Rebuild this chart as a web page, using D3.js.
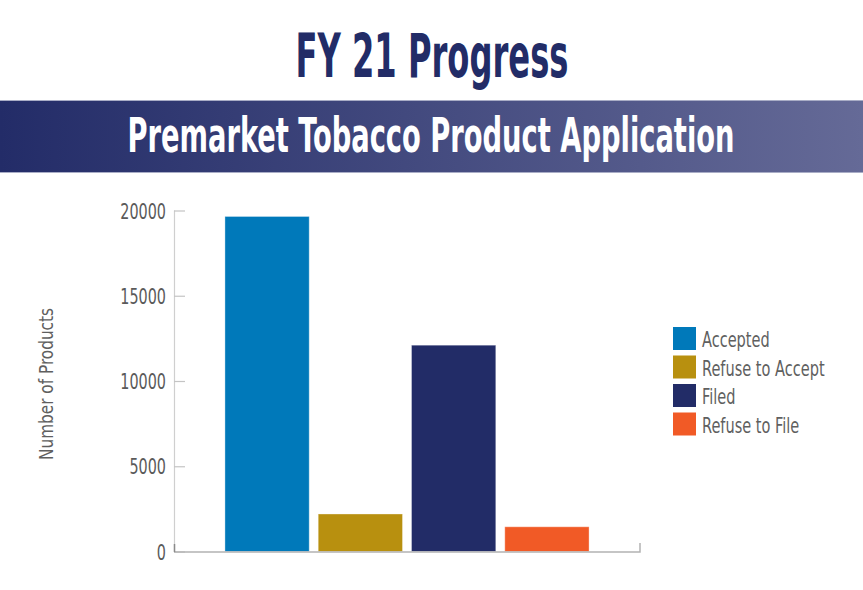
<!DOCTYPE html>
<html>
<head>
<meta charset="utf-8">
<script src="https://cdn.jsdelivr.net/npm/d3@7"></script>
<style>
  body { margin: 0; background: #fff; }
  text { font-family: "DejaVu Sans Condensed", "DejaVu Sans", sans-serif; font-stretch: condensed; }
</style>
</head>
<body>
<svg id="chart" width="863" height="590"></svg>
<script>
// data
const categories = ["Accepted", "Refuse to Accept", "Filed", "Refuse to File"];
const values = [19650, 2200, 12100, 1450];
const colors = ["#0079ba", "#b8900f", "#222c67", "#f15a26"];
const yTicks = [0, 5000, 10000, 15000, 20000];

const svg = d3.select("#chart");
const width = 863, height = 590;
const margin = {top: 210.5, right: 223, bottom: 38.5, left: 174};

// squeeze the text horizontally, the original uses a condensed face
function squeeze(sel, k) {
    sel.each(function() {
        d3.select(this)
            .attr("textLength", this.getComputedTextLength() * k)
            .attr("lengthAdjust", "spacingAndGlyphs");
    });
}

// centred heading scaled to a given width
function heading(str, cx, cy, size, w, fill) {
    const t = svg.append("text")
        .attr("text-anchor", "middle")
        .attr("font-size", size).attr("font-weight", "bold")
        .attr("fill", fill)
        .text(str);
    const k = w / t.node().getComputedTextLength();
    t.attr("transform", `translate(${cx},${cy}) scale(${k},1)`);
}

heading("FY 21 Progress", 432, 77, 60, 273, "#222c67");

// banner
const grad = svg.append("defs").append("linearGradient")
    .attr("id", "banner").attr("x1", "0%").attr("x2", "100%");
grad.append("stop").attr("offset", "0%").attr("stop-color", "#232c68");
grad.append("stop").attr("offset", "100%").attr("stop-color", "#656a97");

svg.append("rect")
    .attr("x", 0).attr("y", 100).attr("width", width).attr("height", 73)
    .attr("fill", "url(#banner)");
svg.append("line").attr("x1", 0).attr("x2", width).attr("y1", 100.5).attr("y2", 100.5)
    .attr("stroke", "#a9adc6").attr("stroke-width", 1);
svg.append("line").attr("x1", 0).attr("x2", width).attr("y1", 172.5).attr("y2", 172.5)
    .attr("stroke", "#a9adc6").attr("stroke-width", 1);

heading("Premarket Tobacco Product Application", 431, 152, 48, 607, "#fff");

// scales
const x = d3.scaleBand()
    .domain(categories)
    .range([margin.left, width - margin.right])
    .paddingInner(0.0965)
    .paddingOuter(0.546);

const y = d3.scaleLinear()
    .domain([0, 20000])
    .range([height - margin.bottom, margin.top]);

// y axis
const yAxis = svg.append("g")
    .attr("transform", `translate(${margin.left},0)`)
    .call(d3.axisRight(y).tickValues(yTicks).tickSize(11).tickFormat(d => d));
yAxis.select(".domain").attr("stroke", "#cfcfcf").attr("stroke-width", 1.2)
    .attr("d", `M0.5,${y(20000)}V${y(0)}`);
yAxis.selectAll(".tick line").attr("stroke", "#c4c4c4").attr("stroke-width", 1.2);
yAxis.selectAll(".tick text")
    .attr("x", -8).attr("dy", "0.36em")
    .attr("text-anchor", "end")
    .attr("font-size", 21)
    .attr("fill", "#5a5a5a")
    .attr("font-family", "'DejaVu Sans Condensed', 'DejaVu Sans', sans-serif")
    .call(squeeze, 0.76);

// y axis title
svg.append("text")
    .attr("transform", "translate(53,384) rotate(-90)")
    .attr("text-anchor", "middle")
    .attr("font-size", 20)
    .attr("fill", "#5f5f5f")
    .attr("textLength", 152).attr("lengthAdjust", "spacingAndGlyphs")
    .text("Number of Products");

// bars
svg.append("g").selectAll("rect")
    .data(categories)
    .join("rect")
    .attr("x", d => x(d))
    .attr("y", (d, i) => y(values[i]))
    .attr("width", x.bandwidth())
    .attr("height", (d, i) => y(0) - y(values[i]))
    .attr("fill", (d, i) => colors[i])
    .attr("stroke", "#ffffff").attr("stroke-opacity", 0.35).attr("stroke-width", 1);

// baseline
const base = y(0) + 0.5;
svg.append("path")
    .attr("d", `M${margin.left},${base}H${width - margin.right}V${base - 9}`)
    .attr("fill", "none").attr("stroke", "#b3b3b3").attr("stroke-width", 1.5);
svg.append("line")
    .attr("x1", margin.left + 0.5).attr("x2", margin.left + 0.5)
    .attr("y1", base - 8).attr("y2", base)
    .attr("stroke", "#8a8a8a").attr("stroke-width", 1.5);

// legend
const legend = svg.append("g").attr("transform", "translate(673,327)");
const row = legend.selectAll("g")
    .data(categories)
    .join("g")
    .attr("transform", (d, i) => `translate(0,${i * 28.5})`);
row.append("rect")
    .attr("width", 23).attr("height", 23)
    .attr("fill", (d, i) => colors[i]);
row.append("text")
    .attr("x", 29).attr("y", 20)
    .attr("font-size", 21)
    .attr("fill", "#5f5f5f")
    .text(d => d)
    .call(squeeze, 0.77);
</script>
</body>
</html>
